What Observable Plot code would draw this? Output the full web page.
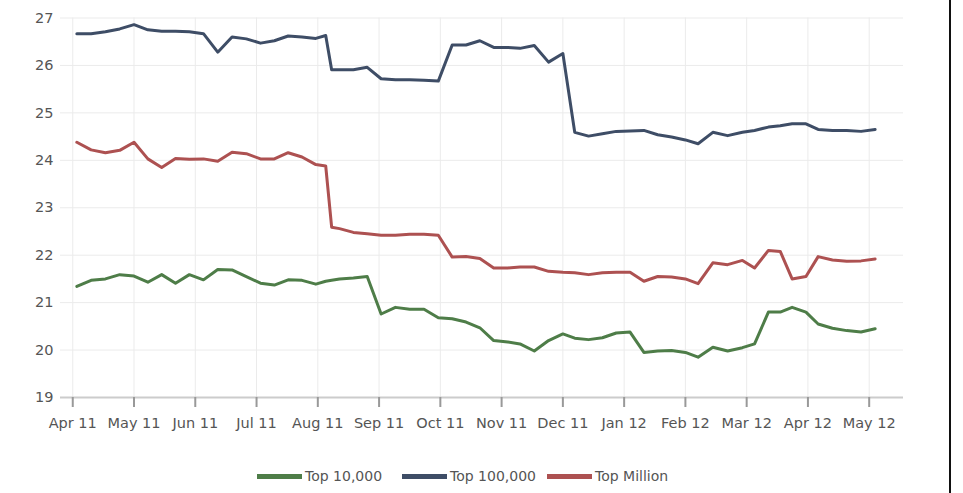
<!DOCTYPE html>
<html>
<head>
<meta charset="utf-8">
<script src="https://cdn.jsdelivr.net/npm/d3@7"></script>
<script src="https://cdn.jsdelivr.net/npm/@observablehq/plot@0.6"></script>
<style>
  html, body { margin: 0; padding: 0; background: #fff; }
  #wrap { position: relative; width: 963px; height: 493px; overflow: hidden; }
  #legend { position: absolute; top: 466px; left: 0; height: 20px; font-family: "DejaVu Sans", sans-serif; font-size: 14px; color: #555; }
  .item { position: absolute; top: 0; display: flex; align-items: center; height: 20px; white-space: nowrap; }
  .sw { width: 45px; height: 5px; margin-right: 3px; }
  #frame { position: absolute; left: 949px; top: 0; width: 2px; height: 493px; background: #111; }
</style>
</head>
<body>
<div id="wrap">
  <div id="chart"></div>
  <div id="legend"></div>
  <div id="frame"></div>
</div>
<script>
// Sample dates
const dates = [
  "2011-04-03","2011-04-10","2011-04-17","2011-04-24","2011-05-01","2011-05-08","2011-05-15","2011-05-22","2011-05-29","2011-06-05",
  "2011-06-12","2011-06-19","2011-06-26","2011-07-03","2011-07-10","2011-07-17","2011-07-24","2011-07-31","2011-08-05","2011-08-08",
  "2011-08-12","2011-08-19","2011-08-26","2011-09-02","2011-09-09","2011-09-16","2011-09-23","2011-09-30","2011-10-07","2011-10-14",
  "2011-10-21","2011-10-28","2011-11-04","2011-11-10","2011-11-17","2011-11-24","2011-12-01","2011-12-07","2011-12-14","2011-12-21",
  "2011-12-28","2012-01-04","2012-01-11","2012-01-18","2012-01-25","2012-02-01","2012-02-07","2012-02-14","2012-02-21","2012-02-28",
  "2012-03-05","2012-03-12","2012-03-18","2012-03-24","2012-03-31","2012-04-06","2012-04-13","2012-04-20","2012-04-27","2012-05-04"
];

const top10k = [
  21.34,21.47,21.50,21.59,21.56,21.43,21.59,21.41,21.59,21.48,
  21.70,21.69,21.55,21.41,21.37,21.48,21.47,21.39,21.45,21.47,
  21.50,21.52,21.55,20.76,20.90,20.86,20.86,20.68,20.66,20.59,
  20.47,20.20,20.17,20.13,19.98,20.20,20.34,20.25,20.22,20.26,
  20.36,20.38,19.95,19.98,19.99,19.95,19.85,20.06,19.98,20.05,
  20.13,20.80,20.80,20.90,20.80,20.55,20.46,20.41,20.38,20.45
];

const top100k = [
  26.67,26.67,26.71,26.77,26.86,26.75,26.72,26.72,26.71,26.67,
  26.28,26.60,26.56,26.47,26.52,26.62,26.60,26.57,26.63,25.91,
  25.91,25.91,25.96,25.72,25.70,25.70,25.69,25.67,26.43,26.43,
  26.52,26.38,26.38,26.36,26.42,26.07,26.25,24.59,24.51,24.56,
  24.61,24.62,24.63,24.54,24.49,24.43,24.35,24.59,24.52,24.59,
  24.63,24.70,24.73,24.77,24.77,24.65,24.63,24.63,24.61,24.65
];

const topMillion = [
  24.38,24.22,24.16,24.21,24.38,24.03,23.85,24.04,24.02,24.03,
  23.98,24.17,24.14,24.03,24.03,24.16,24.07,23.91,23.88,22.59,
  22.56,22.48,22.45,22.42,22.42,22.44,22.44,22.42,21.96,21.97,
  21.93,21.73,21.73,21.75,21.75,21.66,21.64,21.63,21.59,21.63,
  21.64,21.64,21.45,21.55,21.54,21.50,21.40,21.84,21.80,21.89,
  21.73,22.10,22.08,21.50,21.55,21.97,21.90,21.87,21.88,21.92
];

const seriesNames = ["Top 10,000", "Top 100,000", "Top Million"];
const seriesColors = ["#4e7d48", "#3e4d66", "#ad5151"];
const monthLabels = ["Apr 11","May 11","Jun 11","Jul 11","Aug 11","Sep 11","Oct 11","Nov 11","Dec 11","Jan 12","Feb 12","Mar 12","Apr 12","May 12"];
const yTicks = [19, 20, 21, 22, 23, 24, 25, 26, 27];

// The x axis gives every month the same width: position = month index + fraction of month
function monthPos(s) {
  const [y, m, d] = s.split("-").map(Number);
  const dim = new Date(y, m, 0).getDate();
  return (y - 2011) * 12 + (m - 4) + (d - 1) / dim;
}

const seriesValues = [top10k, top100k, topMillion];
const rows = [];
seriesNames.forEach((name, si) => {
  dates.forEach((dt, i) => rows.push({series: name, p: monthPos(dt), v: seriesValues[si][i]}));
});

const monthTicks = monthLabels.map((_, i) => i);

const chart = Plot.plot({
  width: 963,
  height: 445,
  marginLeft: 60,
  marginRight: 60,
  marginTop: 17.5,
  marginBottom: 48,
  style: {fontFamily: "DejaVu Sans, sans-serif", fontSize: "14.5px", color: "#555", background: "#fff"},
  x: {type: "linear", domain: [-0.2, 13.56]},
  y: {domain: [19, 27]},
  color: {domain: seriesNames, range: seriesColors},
  marks: [
    Plot.gridY(yTicks, {stroke: "#ebebeb", strokeOpacity: 1, strokeWidth: 1}),
    Plot.gridX(monthTicks, {stroke: "#ebebeb", strokeOpacity: 1, strokeWidth: 1}),
    Plot.ruleY([19], {stroke: "#cccccc", strokeWidth: 2}),
    Plot.axisX(monthTicks, {tickSize: 10, tickPadding: 10, tickFormat: i => monthLabels[i], stroke: "#999", strokeWidth: 2, label: null}),
    Plot.axisY(yTicks, {tickSize: 0, tickPadding: 7, tickFormat: d => String(d), label: null}),
    Plot.line(rows, {x: "p", y: "v", z: "series", stroke: "series", strokeWidth: 3, strokeLinejoin: "round"})
  ]
});
document.getElementById("chart").appendChild(chart);

// Legend
const legend = document.getElementById("legend");
const legendLeft = [257, 402, 547];
seriesNames.forEach((name, i) => {
  const item = document.createElement("div");
  item.className = "item";
  item.style.left = legendLeft[i] + "px";
  const sw = document.createElement("div");
  sw.className = "sw";
  sw.style.background = seriesColors[i];
  const tx = document.createElement("span");
  tx.textContent = name;
  item.appendChild(sw);
  item.appendChild(tx);
  legend.appendChild(item);
});
</script>
</body>
</html>
